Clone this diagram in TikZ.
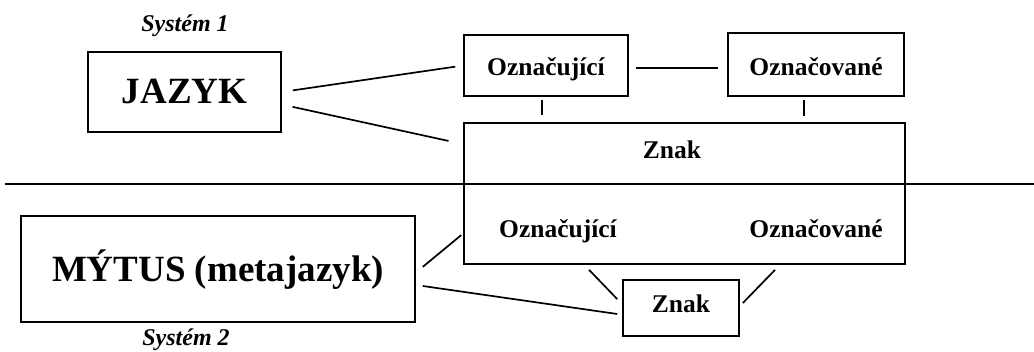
\documentclass[tikz,border=0pt]{standalone}
\usepackage{fontspec}
\setmainfont{Liberation Serif}
\usetikzlibrary{calc}

\begin{document}
\begin{tikzpicture}[
    x=1pt, y=-1pt,
    box/.style={rectangle, draw, line width=1.7pt, inner sep=0pt, text depth=0pt, font=\fontsize{25.5}{30}\selectfont\bfseries},
    bigbox/.style={box, font=\fontsize{37}{44}\selectfont\bfseries},
    inlabel/.style={inner sep=0pt, anchor=base, font=\fontsize{25.5}{30}\selectfont\bfseries},
    system/.style={inner sep=0pt, anchor=base, font=\fontsize{24}{28}\selectfont\bfseries\itshape},
    link/.style={line width=1.7pt}
]
\useasboundingbox (0,0) rectangle (1034,352);

% Nodes
\node[bigbox, minimum width=193pt, minimum height=80pt, text height=24pt] (jazyk) at (184.5,92) {JAZYK};
\node[bigbox, minimum width=394pt, minimum height=106pt, text height=25.4pt] (mytus) at (218,269) {MÝTUS (metajazyk)};
\node[box, minimum width=164pt, minimum height=61pt, text height=21pt] (oznU) at (546,65.5) {Označující};
\node[box, minimum width=176pt, minimum height=63pt, text height=23pt] (oznV) at (816,64.5) {Označované};
\node[box, minimum width=441pt, minimum height=141pt] (znakA) at (684.5,193.5) {};
\node[box, minimum width=116pt, minimum height=56pt, text height=10pt] (znakB) at (681,308) {Znak};

% Labels
\node[inlabel] (znakAtext) at (672,159) {Znak};
\node[inlabel] (oznUlow) at (558,238) {Označující};
\node[inlabel] (oznVlow) at (816,238) {Označované};
\node[system] (sys1) at (185,32) {Systém 1};
\node[system] (sys2) at (186,346) {Systém 2};

% Dividing line
\coordinate (divL) at (5,184);
\coordinate (divR) at (1034,184);
\draw[link] (divL) -- (divR);

% Lines
\draw[link, shorten <=11pt, shorten >=8pt] (jazyk.east) -- (oznU.west);
\draw[link, shorten <=11pt, shorten >=15pt] ([yshift=-12.5pt]jazyk.east) -- ([yshift=-22pt]znakA.north west);
\draw[link, shorten <=7pt, shorten >=9pt] ([yshift=-2.5pt]oznU.east) -- ([yshift=-2.5pt]oznU.east -| oznV.west);
\draw[link, shorten <=3pt, shorten >=7pt] ([xshift=-4pt]oznU.south) -- ([xshift=-4pt]oznU.south |- znakA.north);
\draw[link, shorten <=3pt, shorten >=6pt] ([xshift=-12pt]oznV.south) -- ([xshift=-12pt]oznV.south |- znakA.north);
\draw[link, shorten <=9pt, shorten >=2.5pt] ([yshift=-3.6pt]mytus.east) -- ([yshift=-40pt]znakA.west);
\draw[link, shorten <=7pt, shorten >=5pt] ([yshift=-16pt]mytus.east) -- ([yshift=-6.7pt]znakB.west);
\draw[link, shorten <=7pt, shorten >=7pt] ([xshift=-100.3pt]znakA.south) -- ([yshift=3.8pt]znakB.west);
\draw[link, shorten <=7pt, shorten >=4.3pt] ([xshift=95.4pt]znakA.south) -- ([yshift=1.9pt]znakB.east);

\end{tikzpicture}
\end{document}
